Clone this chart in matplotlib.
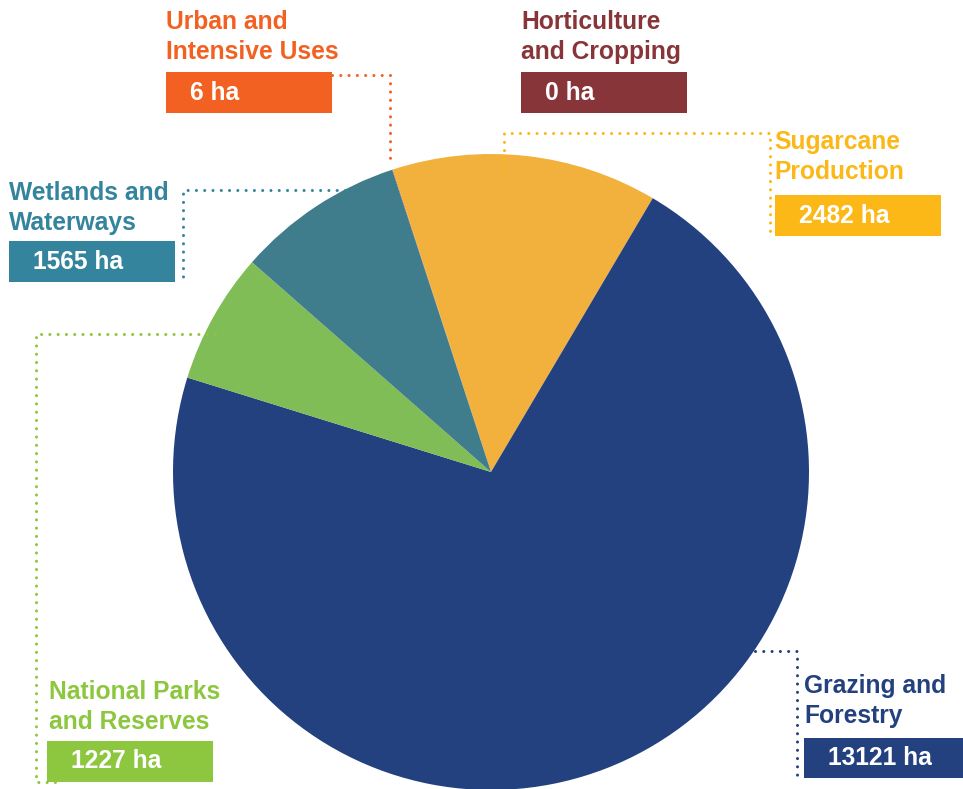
import matplotlib.pyplot as plt

categories = ['Urban and\nIntensive Uses', 'Horticulture\nand Cropping', 'Sugarcane\nProduction',
              'Grazing and\nForestry', 'National Parks\nand Reserves', 'Wetlands and\nWaterways']
areas_ha = [6, 0, 2482, 13121, 1227, 1565]
slice_colors = ['#F26122', '#883539', '#F2B13D', '#23417F', '#80BD56', '#3F7C8C']
label_colors = ['#F26122', '#883539', '#FBB817', '#23417F', '#8DC63F', '#34849E']

W, H = 963, 789

def Y(py):
    return H - py

plt.rcParams['font.family'] = ['Liberation Sans', 'DejaVu Sans']

fig = plt.figure(figsize=(W / 100, H / 100), dpi=100)
ax = fig.add_axes([0, 0, 1, 1])

# pie, clockwise from the top-left boundary
ax.pie(areas_ha, colors=slice_colors, startangle=108.1, counterclock=False,
       center=(491, Y(472)), radius=318, wedgeprops=dict(linewidth=0),
       frame=True)
ax.set_xlim(0, W)
ax.set_ylim(0, H)
ax.set_aspect('equal')
ax.axis('off')

# label layout: (text x, first line y, box x0, box y0, box width, box height)
layout = [
    (166, 22, 166, 72, 166, 41),
    (521, 22, 521, 72, 166, 41),
    (774, 142, 775, 195, 166, 41),
    (804, 686, 804, 738, 162, 40),
    (49, 692, 47, 741, 166, 41),
    (9, 193, 9, 241, 166, 41),
]

for name, val, col, (tx, ty, bx, by, bw, bh) in zip(categories, areas_ha, label_colors, layout):
    for i, ln in enumerate(name.split('\n')):
        ax.text(tx, Y(ty + i * 30), ln, color=col, fontsize=17.7, fontweight='bold',
                ha='left', va='center')
    ax.add_patch(plt.Rectangle((bx, Y(by + bh)), bw, bh, color=col, lw=0))
    ax.text(bx + 24, Y(by + bh / 2), f'{val} ha', color='white', fontsize=17.7,
            fontweight='bold', ha='left', va='center')

# dotted leader lines
leaders = [
    ('#F26122', [(332, 75), (390, 75), (390, 166)]),
    ('#FBB817', [(504, 175), (504, 133), (770, 133), (770, 233)]),
    ('#34849E', [(345, 190), (183, 190), (183, 284)]),
    ('#8DC63F', [(215, 334), (36, 334), (36, 782), (60, 782)]),
    ('#23417F', [(755, 651), (797, 651), (797, 776)]),
]
for col, pts in leaders:
    xs = [p[0] for p in pts]
    ys = [Y(p[1]) for p in pts]
    ax.plot(xs, ys, color=col, lw=2.2, linestyle=(0, (0.01, 2.7)),
            dash_capstyle='round', solid_capstyle='round')

fig.savefig('out.png', dpi=100)
